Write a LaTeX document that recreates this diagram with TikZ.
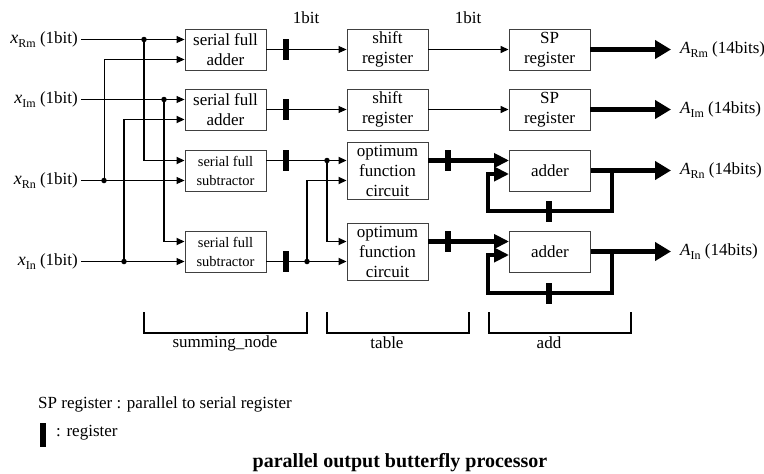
\documentclass[tikz,border=0pt]{standalone}
\usepackage{fontspec}
\setmainfont{Liberation Serif}
\usetikzlibrary{arrows.meta}
\newcommand\sbs[1]{\raisebox{-4pt}{\fontsize{12}{12}\selectfont #1}}
\begin{document}
\begin{tikzpicture}[x=1pt,y=-1pt,
  box/.style={draw=black!75, line width=0.9pt, minimum width=81pt, minimum height=41pt, inner sep=0pt, align=center, font=\fontsize{17}{20}\selectfont},
  subbox/.style={box, font=\fontsize{14.5}{19}\selectfont},
  tallbox/.style={box, minimum height=57pt},
  lbl/.style={inner sep=3pt, font=\fontsize{17}{20}\selectfont},
  outlbl/.style={lbl, anchor=west, inner xsep=9pt},
  regbar/.style={fill=black, draw=none, minimum width=6pt, minimum height=21pt, inner sep=0pt},
  thinl/.style={line width=1pt},
  medl/.style={line width=1.8pt},
  thickl/.style={line width=4.5pt},
  outl/.style={line width=5.5pt},
  brk/.style={line width=1.3pt},
  tipS/.tip={Triangle[length=8pt,width=7pt]},
  tipM/.tip={Triangle[length=15pt,width=14pt]},
  tipL/.tip={Triangle[length=16pt,width=18pt]},
  dot/.style={circle, fill=black, inner sep=0pt, minimum size=5.5pt}
]
\useasboundingbox (0,0) rectangle (764,474);

% boxes
\node[box] (sfa1) at (225.5,49.5) {serial full\\adder};
\node[box] (sfa2) at (225.5,109.5) {serial full\\adder};
\node[subbox] (sfs1) at (225.5,170.5) {serial full\\subtractor};
\node[subbox] (sfs2) at (225.5,251.5) {serial full\\subtractor};
\node[box] (sr1) at (387.5,49.5) {shift\\register};
\node[box] (sr2) at (387.5,109.5) {shift\\register};
\node[tallbox] (ofc1) at (387.5,170.5) {optimum\\function\\circuit};
\node[tallbox] (ofc2) at (387.5,251.5) {optimum\\function\\circuit};
\node[box] (sp1) at (549.5,49.5) {SP\\register};
\node[box] (sp2) at (549.5,109.5) {SP\\register};
\node[box] (add1) at (550,170.5) {adder};
\node[box] (add2) at (550,251.5) {adder};

% input labels
\node[lbl, anchor=east] (xRm) at (81,39.5) {{\fontsize{18}{20}\selectfont\textit{x}}\sbs{Rm} (1bit)};
\node[lbl, anchor=east] (xIm) at (81,99.5) {{\fontsize{18}{20}\selectfont\textit{x}}\sbs{Im} (1bit)};
\node[lbl, anchor=east] (xRn) at (81,180.5) {{\fontsize{18}{20}\selectfont\textit{x}}\sbs{Rn} (1bit)};
\node[lbl, anchor=east] (xIn) at (81,261.5) {{\fontsize{18}{20}\selectfont\textit{x}}\sbs{In} (1bit)};

% output labels
\node[outlbl] (ARm) at (671,49.5) {\textit{A}\sbs{Rm} (14bits)};
\node[outlbl] (AIm) at (671,109.5) {\textit{A}\sbs{Im} (14bits)};
\node[outlbl] (ARn) at (671,170.5) {\textit{A}\sbs{Rn} (14bits)};
\node[outlbl] (AIn) at (671,251.5) {\textit{A}\sbs{In} (14bits)};

\node[lbl] (b1a) at (306,18) {1bit};
\node[lbl] (b1b) at (468,18) {1bit};

% junctions
\coordinate (j1) at (144,39.5);
\coordinate (j2) at (164,99.5);
\coordinate (j3) at (104,180.5);
\coordinate (j4) at (124,261.5);
\coordinate (j5) at (327,160.5);
\coordinate (j6) at (307,261.5);
\coordinate (f1) at (612,170.5);
\coordinate (f2) at (612,251.5);

% input lines
\draw[thinl,-tipS] (xRm.east) -- ([yshift=10pt]sfa1.west);
\draw[thinl,-tipS] (xIm.east) -- ([yshift=10pt]sfa2.west);
\draw[thinl,-tipS] (xRn.east) -- ([yshift=-10pt]sfs1.west);
\draw[thinl,-tipS] (xIn.east) -- ([yshift=-10pt]sfs2.west);
\draw[thinl,-tipS] (j3) |- ([yshift=-10pt]sfa1.west);
\draw[medl,-tipS] (j4) |- ([yshift=-10pt]sfa2.west);
\draw[medl,-tipS] (j1) |- ([yshift=10pt]sfs1.west);
\draw[medl,-tipS] (j2) |- ([yshift=10pt]sfs2.west);

% adder rows
\draw[thinl,-tipS] (sfa1.east) -- (sr1.west);
\draw[thinl,-tipS] (sfa2.east) -- (sr2.west);
\draw[line width=1.4pt,-tipS] (sr1.east) -- (sp1.west);
\draw[line width=1.4pt,-tipS] (sr2.east) -- (sp2.west);
\draw[outl,-tipL] (sp1.east) -- (ARm.west);
\draw[outl,-tipL] (sp2.east) -- (AIm.west);

% subtractor rows
\draw[medl,-tipS] ([yshift=10pt]sfs1.east) -- ([yshift=10pt]ofc1.west);
\draw[medl,-tipS] ([yshift=-10pt]sfs2.east) -- ([yshift=-10pt]ofc2.west);
\draw[medl,-tipS] (j5) |- ([yshift=10pt]ofc2.west);
\draw[medl,-tipS] (j6) |- ([yshift=-10pt]ofc1.west);

% table to adders
\draw[thickl,-tipM] ([yshift=10pt]ofc1.east) -- ([yshift=10pt]add1.west);
\draw[thickl,-tipM] ([yshift=10pt]ofc2.east) -- ([yshift=10pt]add2.west);

% adder outputs and feedback
\draw[outl,-tipL] (add1.east) -- (ARn.west);
\draw[outl,-tipL] (add2.east) -- (AIn.west);
\draw[thickl,-tipM,line join=miter] (f1) -- ++(0,40.5) -- ++(-124,0) -- ++(0,-37) -- ([yshift=-3.5pt]add1.west);
\draw[thickl,-tipM,line join=miter] (f2) -- ++(0,41.5) -- ++(-124,0) -- ++(0,-38) -- ([yshift=-3.5pt]add2.west);

% dots
\foreach \j in {j1,j2,j3,j4,j5,j6} \node[dot] at (\j) {};

% registers
\node[regbar] (r1) at (286,49.5) {};
\node[regbar] (r2) at (286,109.5) {};
\node[regbar] (r3) at (286,160.5) {};
\node[regbar] (r4) at (286,261.5) {};
\node[regbar] (r5) at (448,160.5) {};
\node[regbar] (r6) at (448,241.5) {};
\node[regbar] (r7) at (549,211) {};
\node[regbar] (r8) at (549,293) {};

% brackets
\draw[brk] (144,312) -- (144,333) -- (307,333) -- (307,312);
\draw[brk] (327,312) -- (327,333) -- (469,333) -- (469,312);
\draw[brk] (489,312) -- (489,333) -- (631,333) -- (631,312);
\node[lbl] (lsum) at (225,343) {summing\_node};
\node[lbl] (ltab) at (387,343) {table};
\node[lbl] (ladd) at (549,343) {add};

% legend
\node[lbl, anchor=west] (leg1) at (35,404) {SP register : parallel to serial register};
\node[regbar, minimum height=24pt] (legbar) at (43,435) {};
\node[lbl, anchor=west] (leg2) at (53,433) {: register};

% title
\node[inner sep=0pt, font=\bfseries\fontsize{20}{24}\selectfont] (title) at (400,463) {parallel output butterfly processor};
\end{tikzpicture}
\end{document}
